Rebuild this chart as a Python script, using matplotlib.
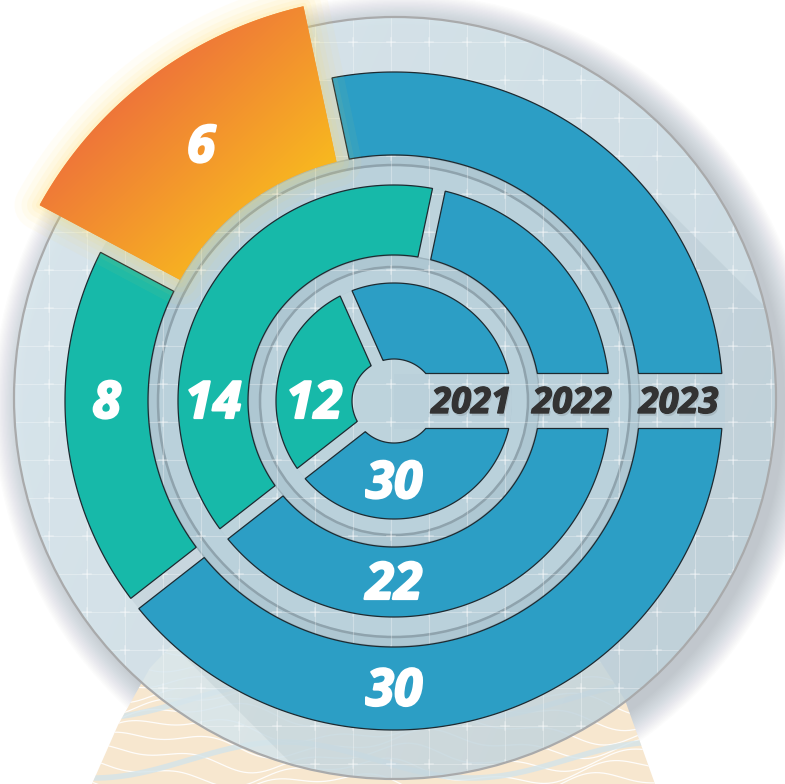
import numpy as np
import matplotlib.pyplot as plt
from matplotlib.patches import Circle, Polygon, Wedge, Rectangle
import matplotlib.patheffects as pe

# rings, inner -> outer
years = ['2021', '2022', '2023']
# arc of each segment in degrees, clockwise from 3 o'clock
arc_2021 = [142, 104, 114]
arc_2022 = [142, 140, 78]
arc_2023 = [142, 66, 50, 102]
# printed values ('' = unlabeled)
val_2021 = ['30', '12', '']
val_2022 = ['22', '14', '']
val_2023 = ['30', '8', '6', '']
# segment kind
kind_2021 = ['base', 'share', 'rest']
kind_2022 = ['base', 'share', 'rest']
kind_2023 = ['base', 'share', 'focus', 'rest']

arcs = [arc_2021, arc_2022, arc_2023]
vals = [val_2021, val_2022, val_2023]
kinds = [kind_2021, kind_2022, kind_2023]

BLUE = '#2c9ec5'
GREEN = '#17b9a9'
seg_col = {'base': BLUE, 'share': GREEN, 'rest': BLUE}

W, H = 785, 784
CX, CY = 394, 401
radii = [(42, 118), (146, 216), (246, 329)]
FOCUS_R = 405
BAND = 27.5
GAP = 6.5
BGX, BGY, BGR = 395, 398, 381
FONT = dict(family='Open Sans', weight='bold', style='italic')

fig = plt.figure(figsize=(W / 100, H / 100), dpi=100, facecolor='white')
ax = fig.add_axes([0, 0, 1, 1])


def sector(lo, hi, r0, r1, off_lo, off_hi, n=120):
    # annular sector whose straight edges are offset (parallel) to the radius
    o0 = lo + np.degrees(np.arcsin(off_lo / r1))
    o1 = hi - np.degrees(np.arcsin(off_hi / r1))
    i0 = lo + np.degrees(np.arcsin(off_lo / r0))
    i1 = hi - np.degrees(np.arcsin(off_hi / r0))
    a = np.radians(np.concatenate([np.linspace(o0, o1, n), np.linspace(i1, i0, n)]))
    r = np.concatenate([np.full(n, r1), np.full(n, r0)])
    return np.column_stack([CX + r * np.cos(a), CY - r * np.sin(a)])


# drop shadow of the plate
for k in range(24):
    ax.add_patch(Circle((BGX + 9, BGY + 7), BGR + k * 1.3, fc='#2b3f4f', ec='none',
                        alpha=0.010, zorder=0.5))

# beige topo shape behind the plate
beige_pts = [(92, 784), (118, 725), (150, 668), (200, 615), (300, 575), (400, 565),
             (500, 580), (580, 630), (625, 700), (655, 784)]
beige = Polygon(beige_pts, closed=True, fc='#f7e7cf', ec='none', zorder=1)
ax.add_patch(beige)
xs = np.linspace(60, 700, 300)
for k, y0 in enumerate(range(590, 820, 14)):
    ys = y0 + 10 * np.sin(xs / 45 + k * 0.7) + 5 * np.sin(xs / 17 + k)
    l, = ax.plot(xs, ys, color='white', lw=0.9, alpha=0.9, zorder=1.1)
    l.set_clip_path(beige)
for y0 in (700, 760):
    l, = ax.plot(xs, y0 + 18 * np.sin(xs / 60), color='#d3e4ea', lw=4, alpha=0.8, zorder=1.2)
    l.set_clip_path(beige)

# plate
clip = Circle((BGX, BGY), BGR, transform=ax.transData)
gx = np.linspace(BGX - BGR, BGX + BGR, 200)
gy = np.linspace(BGY - BGR, BGY + BGR, 200)
GX, GY = np.meshgrid(gx, gy)
t = (GX - gx[0]) / (2 * BGR) * 0.7 + (GY - gy[0]) / (2 * BGR) * 0.3
c0 = np.array([0.87, 0.925, 0.95])
c1 = np.array([0.80, 0.87, 0.90])
img = c0 + (c1 - c0) * t[..., None]
im = ax.imshow(img, extent=(gx[0], gx[-1], gy[-1], gy[0]), origin='upper', alpha=0.84,
               zorder=2, aspect='auto', interpolation='bilinear')
im.set_clip_path(clip)
ax.add_patch(Circle((BGX, BGY), BGR, fc='none', ec='#a9aaab', lw=1.6, zorder=4))

# long shadow of the rings
R3 = radii[-1][1]
phi = np.radians(np.linspace(-45, -225, 90))
sx = CX + R3 * np.cos(phi)
sy = CY + R3 * np.sin(phi)
L = 600
shp = np.column_stack([np.concatenate([sx, [sx[-1] + L, sx[0] + L]]),
                       np.concatenate([sy, [sy[-1] + L, sy[0] + L]])])
sh = Polygon(shp, closed=True, fc='#3d5a6a', ec='none', alpha=0.07, zorder=2.2)
ax.add_patch(sh)
sh.set_clip_path(clip)

# floor under the rings
ax.add_patch(Circle((CX, CY), 246, fc='#bdd3dc', ec='none', zorder=2.5))
ax.add_patch(Rectangle((CX, CY - BAND), R3 + 2, 2 * BAND, fc='#b8cfd9', ec='none',
                       alpha=0.6, zorder=2.5))

# grey separator rings
for r_in, r_out, r_line in [(118, 146, 134), (216, 246, 236)]:
    ax.add_patch(Wedge((CX, CY), r_out, 0, 360, width=r_out - r_in, fc='#aec7d2',
                       ec='none', zorder=3))
    ax.add_patch(Wedge((CX, CY), r_line - 1, 0, 360, width=r_line - 1 - r_in, fc='#bad1db',
                       ec='none', zorder=3.05))
    ax.add_patch(Circle((CX, CY), r_line, fc='none', ec='#8fa3ad', lw=1.8, zorder=3.1))
    ax.add_patch(Circle((CX, CY), r_out - 0.5, fc='none', ec='#9cb1bb', lw=1.0, zorder=3.1))

# grid on the plate
gl = dict(color='white', lw=0.8, alpha=0.3, zorder=3.5)
for x in np.arange(353 - 38 * 10, W, 38):
    l, = ax.plot([x, x], [0, H], **gl)
    l.set_clip_path(clip)
for y in np.arange(42 - 38, H, 38):
    l, = ax.plot([0, W], [y, y], **gl)
    l.set_clip_path(clip)
for x in np.arange(353 - 38 * 10, W, 38):
    for y in np.arange(42 - 38, H, 38):
        for dx, dy in [(4, 0), (0, 4)]:
            l, = ax.plot([x - dx, x + dx], [y - dy, y + dy], color='white', lw=1.1,
                         alpha=0.35, zorder=3.5)
            l.set_clip_path(clip)

# ring segments
thick = [pe.withStroke(linewidth=1.6, foreground='white')]
focus_poly = None
for ring, (r0, r1) in enumerate(radii):
    hi = 360.0
    for arc, val, kind in zip(arcs[ring], vals[ring], kinds[ring]):
        lo = hi - arc
        off_hi = BAND if hi == 360 else GAP
        off_lo = BAND if lo <= 0 else GAP
        if kind == 'focus':
            focus_poly = sector(lo, hi, r0, FOCUS_R, off_lo, off_hi)
            rl = (r0 + FOCUS_R) / 2 - 5
        else:
            ax.add_patch(Polygon(sector(lo, hi, r0, r1, off_lo, off_hi), closed=True,
                                 fc=seg_col[kind], ec='#1d2a31', lw=0.9, zorder=5))
            rl = (r0 + r1) / 2
        if val:
            if lo <= 270 <= hi:
                al = 270
            elif lo <= 180 <= hi:
                al = 180
            else:
                al = (lo + hi) / 2
            ax.text(CX + rl * np.cos(np.radians(al)), CY - rl * np.sin(np.radians(al)) + 4,
                    val, color='white', fontsize=37, ha='center', va='center', zorder=10,
                    path_effects=thick, **FONT)
        hi = lo

# highlighted segment: glow + gradient
if focus_poly is not None:
    for lw, a in [(36, 0.05), (26, 0.06), (18, 0.07), (11, 0.08), (5, 0.1)]:
        ax.add_patch(Polygon(focus_poly, closed=True, fc='none', ec='#ffdc5a', lw=lw,
                             alpha=a, joinstyle='round', zorder=5.5))
    fpatch = Polygon(focus_poly, closed=True, fc='#f39a3a', ec='none', zorder=6)
    ax.add_patch(fpatch)
    x0, y0 = focus_poly.min(axis=0)
    x1, y1 = focus_poly.max(axis=0)
    fx = np.linspace(x0, x1, 150)
    fy = np.linspace(y0, y1, 150)
    FX, FY = np.meshgrid(fx, fy)
    p0 = np.array([120, 60])
    d = np.array([180, 190])
    tt = np.clip(((FX - p0[0]) * d[0] + (FY - p0[1]) * d[1]) / (d @ d), 0, 1)
    o0 = np.array([0.93, 0.42, 0.24])
    o1 = np.array([0.98, 0.78, 0.10])
    fim = ax.imshow(o0 + (o1 - o0) * tt[..., None], extent=(x0, x1, y1, y0), origin='upper',
                    zorder=6.1, aspect='auto', interpolation='bilinear')
    fim.set_clip_path(fpatch)

# year labels in the 3 o'clock band
for ring, (r0, r1) in enumerate(radii):
    ax.text(CX + (r0 + r1) / 2 - 3, CY + 3, years[ring], color='#333333', fontsize=26,
            ha='center', va='center', zorder=10, **FONT,
            path_effects=[pe.withSimplePatchShadow(offset=(1, -2), shadow_rgbFace='black',
                                                   alpha=0.1),
                          pe.withStroke(linewidth=1.0, foreground='#333333')])

ax.set_xlim(0, W)
ax.set_ylim(H, 0)
ax.axis('off')
plt.savefig('out.png', dpi=100, facecolor='white')
